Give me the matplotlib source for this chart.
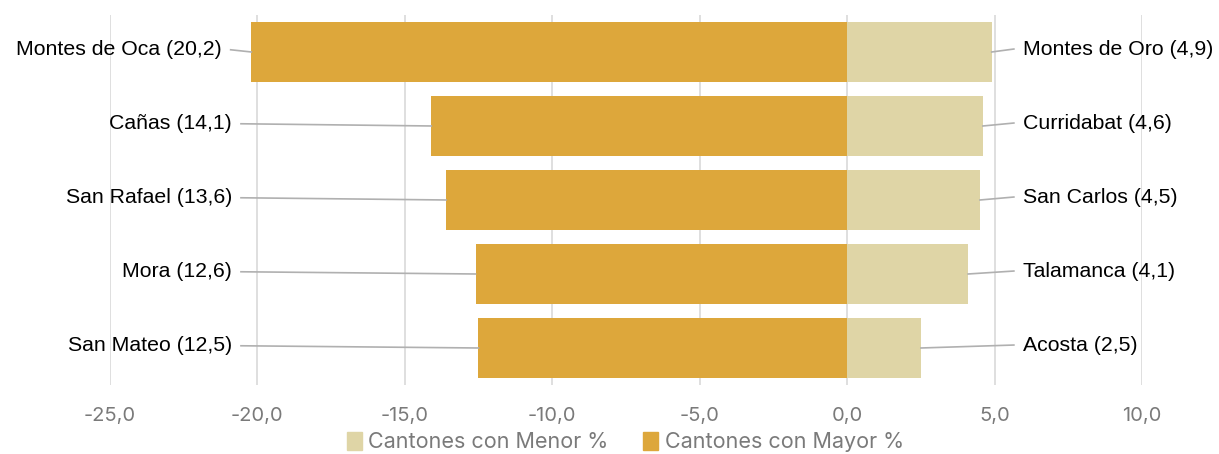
import matplotlib.pyplot as plt
from matplotlib.patches import Patch

# data
mayor_names = ["Montes de Oca", "Cañas", "San Rafael", "Mora", "San Mateo"]
mayor_vals = [20.2, 14.1, 13.6, 12.6, 12.5]
menor_names = ["Montes de Oro", "Curridabat", "San Carlos", "Talamanca", "Acosta"]
menor_vals = [4.9, 4.6, 4.5, 4.1, 2.5]
xticks = [-25, -20, -15, -10, -5, 0, 5, 10]

c_mayor = "#DDA73B"
c_menor = "#DFD5A6"
c_grid = "#D9D9D9"
c_line = "#B0B0B0"
c_tick = "#7A7A7A"

fig = plt.figure(figsize=(12.19, 4.54), dpi=100)
ax = fig.add_axes([0.09, 0.152, 0.847, 0.815])

ypos = list(range(len(mayor_vals)))
ax.barh(ypos, [-v for v in mayor_vals], height=0.81, color=c_mayor, zorder=2)
ax.barh(ypos, menor_vals, height=0.81, color=c_menor, zorder=2)

ax.set_xlim(-25, 10)
ax.set_ylim(len(ypos) - 0.5, -0.5)
ax.set_xticks(xticks)
ax.set_xticklabels([f"{t:.1f}".replace(".", ",") for t in xticks],
                   fontsize=14.5, color=c_tick, family="Inter")
ax.tick_params(axis="x", length=0, pad=16)
ax.set_yticks([])
ax.grid(axis="x", color=c_grid, linewidth=1.2, zorder=0)
for s in ax.spines.values():
    s.set_visible(False)

def fmt(v):
    return f"{v:.1f}".replace(".", ",")

# left labels with leader lines
for y, name, v in zip(ypos, mayor_names, mayor_vals):
    end = -v
    start = min(-20.55, end - 0.05)
    if v > 20:
        start = end - 0.7
    ax.plot([start, end], [y - 0.03, y], color=c_line, lw=1.2, zorder=3,
            clip_on=False)
    ax.text(start - 0.3, y - 0.03, f"{name} ({fmt(v)})", ha="right",
            va="center", fontsize=15.3, family="Liberation Sans", color="black")

# right labels with leader lines
for y, name, v in zip(ypos, menor_names, menor_vals):
    end = 5.65
    ax.plot([v, end], [y, y - 0.04], color=c_line, lw=1.2, zorder=3,
            clip_on=False)
    ax.text(end + 0.3, y - 0.04, f"{name} ({fmt(v)})", ha="left",
            va="center", fontsize=15.3, family="Liberation Sans", color="black")

handles = [Patch(color=c_menor, label="Cantones con Menor %"),
           Patch(color=c_mayor, label="Cantones con Mayor %")]
fig.legend(handles=handles, loc="center", bbox_to_anchor=(0.513, 0.026),
           ncol=2, frameon=False, handlelength=0.7, handleheight=0.9,
           handletextpad=0.3, columnspacing=1.6,
           prop={"family": "Inter", "size": 15.5}, labelcolor=c_tick)

fig.savefig("out.png", dpi=100)
